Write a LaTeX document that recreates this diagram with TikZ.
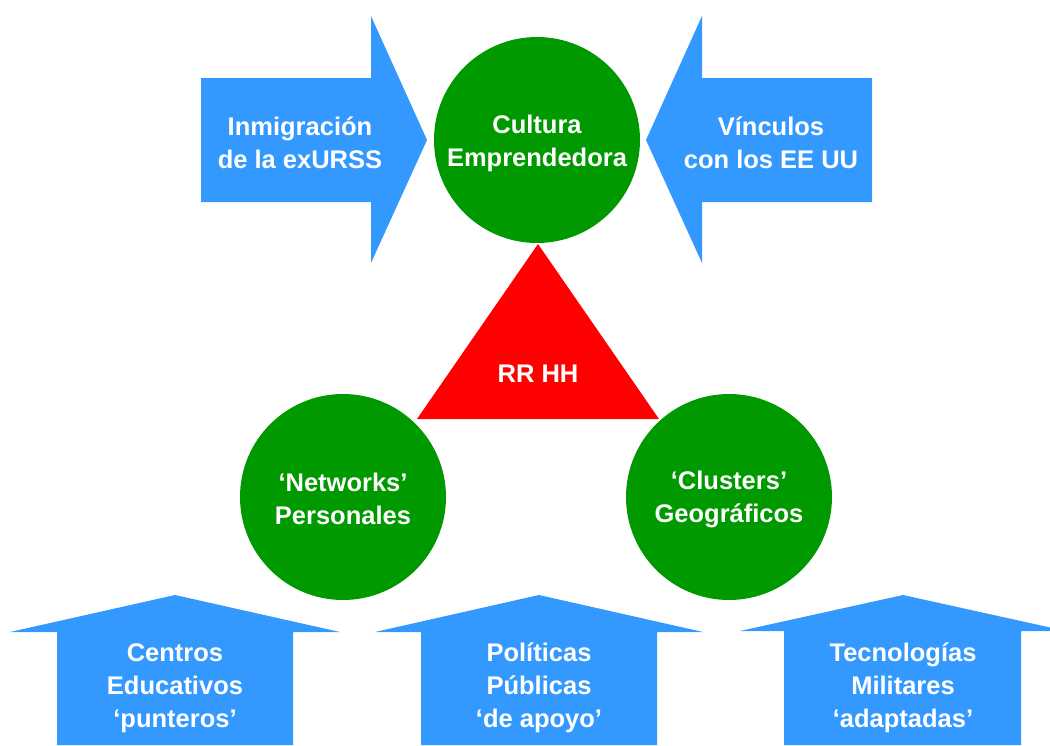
\documentclass[tikz,border=0pt]{standalone}
\usepackage{fontspec}
\setmainfont{Liberation Sans}
\begin{document}
\begin{tikzpicture}[x=1pt,y=-1pt,
  lbl/.style={text=white,font=\fontsize{25.5}{33}\selectfont\bfseries,align=center,inner sep=0pt},
  ball/.style={circle,fill=circgreen,minimum size=206pt,inner sep=0pt},
  blk/.style={fill=arrowblue}]
\definecolor{arrowblue}{HTML}{3399FF}
\definecolor{circgreen}{HTML}{009900}
\definecolor{trired}{HTML}{FF0000}
\useasboundingbox (0,0) rectangle (1050,745);
\clip (0,0) rectangle (1050,745);
% side arrows
\fill[blk] (201,78) -- (371,78) -- (371,16) -- (427,140) -- (371,263) -- (371,202) -- (201,202) -- cycle;
\fill[blk] (872,78) -- (702,78) -- (702,16) -- (646,140) -- (702,263) -- (702,202) -- (872,202) -- cycle;
% bottom arrows
\fill[blk] (57,745) -- (57,632) -- (10,632) -- (175,595) -- (340,632) -- (293,632) -- (293,745) -- cycle;
\fill[blk] (421,745) -- (421,632) -- (375,632) -- (539,595) -- (703,632) -- (657,632) -- (657,745) -- cycle;
\fill[blk] (784,745) -- (784,631) -- (740,631) -- (903,595) -- (1066,631) -- (1021,631) -- (1021,745) -- cycle;
% triangle
\fill[trired] (538,244) -- (659,419) -- (417,419) -- cycle;
% circles
\node[ball] (cult) at (537,140) {};
\node[ball] (netw) at (343,497) {};
\node[ball] (clus) at (729,497) {};
% labels
\node[lbl] (tcult) at (537,143) {Cultura\\Emprendedora};
\node[lbl] (tinm) at (300,143) {Inmigración\\de la exURSS};
\node[lbl] (tvin) at (771,143) {Vínculos\\con los EE UU};
\node[lbl] (trr) at (538,374) {RR HH};
\node[lbl] (tnet) at (343,499) {‘Networks’\\Personales};
\node[lbl] (tclu) at (729,499) {‘Clusters’\\Geográficos};
\node[lbl] (tcen) at (175,688) {Centros\\Educativos\\‘punteros’};
\node[lbl] (tpol) at (539,688) {Políticas\\Públicas\\‘de apoyo’};
\node[lbl] (ttec) at (903,688) {Tecnologías\\Militares\\‘adaptadas’};
\end{tikzpicture}
\end{document}
